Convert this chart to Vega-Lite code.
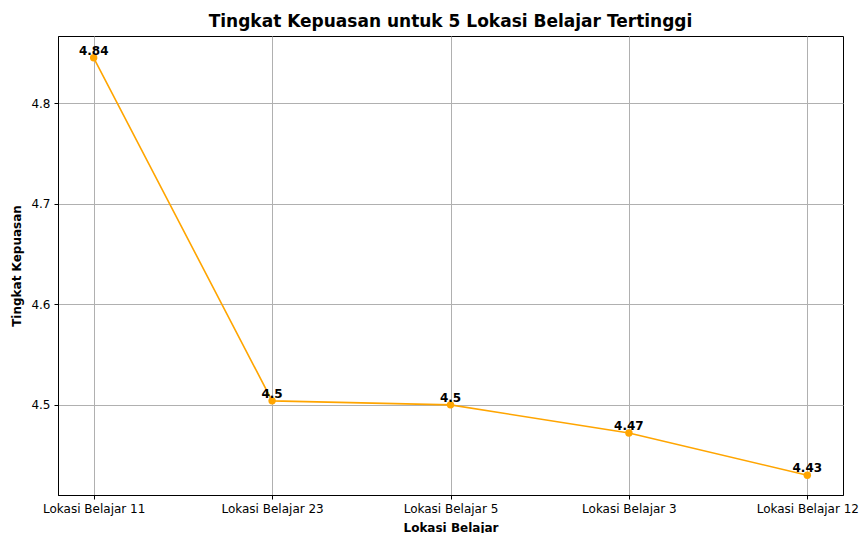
{
  "$schema": "https://vega.github.io/schema/vega-lite/v6.json",
  "autosize": {"type": "none"},
  "width": 785,
  "height": 459,
  "padding": {"left": 58, "top": 36, "right": 17, "bottom": 38},
  "background": "white",
  "title": {
    "text": "Tingkat Kepuasan untuk 5 Lokasi Belajar Tertinggi",
    "font": "DejaVu Sans",
    "fontSize": 17,
    "fontWeight": "bold",
    "color": "black",
    "anchor": "middle",
    "offset": 5
  },
  "config": {
    "font": "DejaVu Sans",
    "view": {"stroke": "black", "strokeWidth": 1}
  },
  "data": {
    "values": [
      {"lokasi": "Lokasi Belajar 11", "kepuasan": 4.845, "label": "4.84"},
      {"lokasi": "Lokasi Belajar 23", "kepuasan": 4.504, "label": "4.5"},
      {"lokasi": "Lokasi Belajar 5", "kepuasan": 4.5, "label": "4.5"},
      {"lokasi": "Lokasi Belajar 3", "kepuasan": 4.472, "label": "4.47"},
      {"lokasi": "Lokasi Belajar 12", "kepuasan": 4.43, "label": "4.43"}
    ]
  },
  "encoding": {
    "x": {
      "field": "lokasi",
      "type": "ordinal",
      "sort": null,
      "scale": {"type": "point", "padding": 0.2},
      "axis": {
        "title": "Lokasi Belajar",
        "titleFont": "DejaVu Sans",
        "titleFontSize": 12,
        "titleFontWeight": "bold",
        "titleColor": "black",
        "titlePadding": 8,
        "labelAngle": 0,
        "labelFontSize": 12,
        "labelColor": "black",
        "labelPadding": 4,
        "tickColor": "black",
        "tickSize": 4,
        "domainColor": "black",
        "grid": true,
        "gridColor": "#b0b0b0",
        "gridWidth": 1
      }
    },
    "y": {
      "field": "kepuasan",
      "type": "quantitative",
      "scale": {"domain": [4.4104, 4.8667], "nice": false, "zero": false},
      "axis": {
        "title": "Tingkat Kepuasan",
        "titleFont": "DejaVu Sans",
        "titleFontSize": 12,
        "titleFontWeight": "bold",
        "titleColor": "black",
        "titlePadding": 7,
        "values": [4.5, 4.6, 4.7, 4.8],
        "format": ".1f",
        "labelFontSize": 12,
        "labelColor": "black",
        "labelPadding": 4,
        "tickColor": "black",
        "tickSize": 4,
        "domainColor": "black",
        "grid": true,
        "gridColor": "#b0b0b0",
        "gridWidth": 1
      }
    }
  },
  "layer": [
    {
      "mark": {"type": "line", "color": "orange", "strokeWidth": 1.6}
    },
    {
      "mark": {"type": "point", "filled": true, "color": "orange", "size": 55, "opacity": 1}
    },
    {
      "mark": {"type": "text", "baseline": "bottom", "fontWeight": "bold", "fontSize": 12, "color": "black", "dy": 0},
      "encoding": {"text": {"field": "label"}}
    }
  ]
}
